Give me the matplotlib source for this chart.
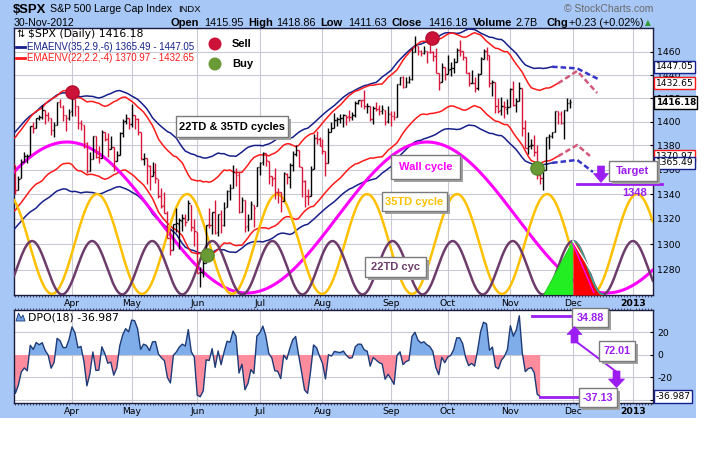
import numpy as np
import pandas as pd
import matplotlib
matplotlib.use("Agg")
import matplotlib.pyplot as plt
from matplotlib.transforms import Affine2D, blended_transform_factory
from matplotlib.patches import Rectangle, Polygon, Circle
from matplotlib.lines import Line2D
from matplotlib.ticker import FixedLocator, NullLocator, FuncFormatter

W, H = 725, 454

# trading calendar (NYSE 2012, incl. Sandy closure)
holidays = ["2012-01-16", "2012-02-20", "2012-04-06", "2012-05-28", "2012-07-04",
            "2012-09-03", "2012-10-29", "2012-10-30", "2012-11-22", "2012-12-25",
            "2013-01-01"]
days = pd.bdate_range("2012-01-03", "2013-01-31", freq="C", holidays=holidays)

# closes before the visible window (warm-up for the envelopes)
hist_closes = [1277.06, 1277.30, 1281.06, 1277.81, 1280.70, 1292.08, 1292.48, 1295.50, 1289.09, 1293.67,
               1308.04, 1314.50, 1315.38, 1316.00, 1314.65, 1326.06, 1318.43, 1316.33, 1313.01, 1312.41,
               1324.09, 1325.54, 1344.90, 1344.33, 1347.05, 1349.96, 1351.95, 1342.64, 1351.77, 1350.50,
               1343.23, 1358.04, 1361.23, 1362.21, 1357.66, 1363.46, 1365.74, 1367.59, 1372.18, 1365.68,
               1374.09, 1369.63]

# daily bars 5-Mar-2012 .. 30-Nov-2012
opens = [
    1369.6, 1363.6, 1343.4, 1352.7, 1365.97, 1370.8, 1371.9, 1395.9, 1394.2, 1402.6, 1404.2, 1409.6, 1405.5, 1402.9, 1392.8, 1397.1, 1416.6, 1412.5, 1405.4, 1403.3,
    1408.5, 1418.98, 1413.1, 1398.8, 1397.45, 1382.2, 1358.98, 1368.8, 1387.6, 1370.3, 1369.6, 1390.8, 1385.1, 1376.96, 1378.5, 1366.97, 1372.1, 1390.6, 1400.2, 1403.3,
    1397.9, 1405.5, 1402.3, 1391.5, 1368.8, 1369.2, 1363.2, 1354.6, 1358.1, 1351.9, 1338.4, 1330.8, 1324.8, 1305.1, 1295.7, 1316.1, 1316.0, 1318.7, 1320.8, 1318.9, 1331.3, 1313.1,
    1309.9, 1278.3, 1277.8, 1285.6, 1316.2, 1314.99, 1325.7, 1309.4, 1324.0, 1314.9, 1329.2, 1342.4, 1344.8, 1358.0, 1355.4, 1325.9, 1334.9, 1314.1, 1320.0, 1331.5, 1330.1,
    1362.3, 1365.8, 1373.7, 1367.1, 1354.7, 1352.96, 1341.4, 1341.3, 1334.8, 1356.5, 1353.7, 1363.6, 1373.0, 1376.5, 1362.3, 1350.5, 1338.4, 1338.2, 1360.1, 1385.9, 1385.3,
    1379.3, 1375.1, 1365.45, 1391.0, 1394.5, 1401.2, 1402.3, 1402.6, 1405.9, 1404.4, 1403.9, 1405.6, 1415.8, 1417.9, 1418.1, 1413.1, 1413.5, 1401.99, 1411.1, 1410.4, 1409.3, 1410.1, 1400.1,
    1406.5, 1404.9, 1403.7, 1432.1, 1437.9, 1429.1, 1433.6, 1436.6, 1460.1, 1465.4, 1461.2, 1459.5, 1461.05, 1460.3, 1459.8, 1456.9, 1441.6, 1433.4, 1447.1,
    1440.9, 1444.99, 1446.1, 1451.1, 1461.4, 1460.9, 1455.9, 1441.5, 1432.8, 1432.8, 1428.8, 1440.3, 1454.2, 1460.9, 1457.3, 1433.2, 1433.7, 1413.2, 1409.7, 1412.97, 1410.99,
    1412.2, 1427.6, 1414.0, 1417.3, 1428.3, 1394.5, 1377.6, 1379.9, 1380.0, 1374.6, 1355.4, 1353.4, 1359.9, 1386.8, 1387.8, 1391.0, 1409.2, 1406.3, 1398.8, 1409.96, 1415.95]
highs = [
    1369.6, 1363.6, 1354.9, 1368.7, 1374.8, 1373.0, 1396.0, 1399.4, 1402.6, 1405.9, 1414.0, 1409.6, 1407.8, 1402.9, 1399.2, 1416.6, 1419.2, 1413.7, 1405.4, 1410.9,
    1422.4, 1419.0, 1413.1, 1401.6, 1397.45, 1383.0, 1374.7, 1388.1, 1387.6, 1379.7, 1392.8, 1390.8, 1390.2, 1387.4, 1378.5, 1375.6, 1391.4, 1402.1, 1406.6, 1403.3,
    1415.3, 1405.5, 1403.1, 1391.5, 1373.9, 1369.2, 1363.7, 1365.9, 1365.7, 1351.9, 1344.9, 1341.8, 1326.4, 1312.2, 1316.4, 1328.5, 1320.7, 1324.1, 1324.2, 1334.9, 1331.3, 1319.7,
    1309.9, 1282.6, 1287.6, 1315.1, 1329.1, 1325.8, 1335.5, 1324.3, 1327.3, 1333.7, 1343.3, 1348.2, 1363.5, 1361.6, 1358.3, 1337.8, 1334.9, 1324.2, 1334.4, 1331.5, 1362.2,
    1366.4, 1374.8, 1373.9, 1367.1, 1354.9, 1361.5, 1345.0, 1341.3, 1357.7, 1357.3, 1365.4, 1375.3, 1380.4, 1376.5, 1362.3, 1351.5, 1343.98, 1363.1, 1389.2, 1391.7, 1387.2,
    1385.0, 1375.1, 1394.2, 1399.6, 1407.1, 1404.1, 1405.95, 1405.98, 1405.9, 1410.0, 1407.7, 1417.4, 1418.7, 1418.6, 1426.7, 1416.1, 1413.5, 1413.5, 1416.2, 1413.6, 1413.95, 1410.1, 1413.1,
    1409.3, 1408.8, 1432.1, 1437.9, 1438.7, 1437.8, 1439.2, 1463.8, 1474.5, 1465.6, 1461.5, 1465.2, 1461.2, 1467.1, 1460.7, 1463.2, 1441.6, 1450.2, 1447.1,
    1457.1, 1451.5, 1454.3, 1463.1, 1470.96, 1460.9, 1455.9, 1442.5, 1443.9, 1438.4, 1441.3, 1455.5, 1462.2, 1464.0, 1457.3, 1435.5, 1433.7, 1420.0, 1421.1, 1417.1, 1418.8,
    1428.4, 1434.3, 1419.9, 1433.4, 1428.3, 1401.2, 1391.4, 1384.9, 1388.8, 1380.1, 1360.6, 1362.0, 1386.9, 1389.8, 1391.3, 1409.2, 1409.2, 1409.0, 1410.0, 1419.7, 1418.86]
lows = [
    1359.1, 1340.0, 1343.4, 1352.7, 1365.97, 1365.7, 1371.9, 1389.97, 1394.2, 1401.5, 1402.4, 1397.7, 1400.6, 1388.7, 1386.9, 1397.1, 1411.9, 1400.5, 1391.6, 1401.4,
    1404.5, 1404.6, 1394.1, 1392.9, 1378.2, 1357.4, 1358.98, 1368.8, 1369.9, 1365.4, 1369.6, 1383.3, 1370.3, 1376.96, 1358.8, 1366.8, 1372.1, 1387.3, 1397.7, 1394.0,
    1395.7, 1393.9, 1388.7, 1367.96, 1363.9, 1347.8, 1343.1, 1354.6, 1348.9, 1336.6, 1328.4, 1324.8, 1304.86, 1291.98, 1295.7, 1310.0, 1296.5, 1310.5, 1314.2, 1318.9, 1310.8, 1298.9,
    1277.3, 1266.7, 1274.2, 1285.6, 1312.7, 1307.8, 1307.7, 1306.6, 1308.5, 1314.1, 1329.2, 1334.9, 1344.8, 1346.5, 1324.4, 1325.9, 1309.3, 1310.3, 1320.0, 1313.3, 1330.1,
    1355.7, 1363.5, 1363.0, 1348.0, 1346.7, 1336.3, 1333.2, 1325.4, 1334.8, 1348.5, 1345.1, 1358.8, 1371.2, 1362.2, 1337.6, 1329.2, 1331.5, 1338.2, 1360.1, 1381.4, 1379.2,
    1373.1, 1354.7, 1365.45, 1391.0, 1394.5, 1396.6, 1398.8, 1395.6, 1397.3, 1400.6, 1401.0, 1404.2, 1414.7, 1412.1, 1410.9, 1406.8, 1400.5, 1398.0, 1409.1, 1405.6, 1406.6, 1397.0, 1398.96,
    1396.6, 1401.3, 1403.7, 1431.5, 1428.98, 1429.1, 1432.99, 1435.3, 1460.1, 1457.6, 1456.1, 1457.9, 1449.98, 1459.5, 1452.1, 1441.6, 1427.2, 1433.4, 1435.6,
    1440.9, 1439.0, 1441.99, 1451.1, 1456.9, 1453.1, 1441.2, 1430.6, 1432.8, 1425.5, 1427.2, 1440.3, 1453.4, 1452.6, 1429.9, 1422.1, 1407.6, 1407.1, 1405.1, 1403.3, 1405.95,
    1412.2, 1412.9, 1408.1, 1417.3, 1388.1, 1377.5, 1373.0, 1377.2, 1370.8, 1352.5, 1348.1, 1343.35, 1359.9, 1377.0, 1386.4, 1391.0, 1397.7, 1398.0, 1385.4, 1409.0, 1411.63]
closes = [
    1364.33, 1343.36, 1352.63, 1365.91, 1370.87, 1371.09, 1395.95, 1394.28, 1402.60, 1404.17, 1409.75, 1405.52, 1402.89, 1392.78, 1397.11, 1416.51, 1412.52, 1405.54, 1403.28, 1408.47,
    1419.04, 1413.38, 1398.96, 1398.08, 1382.20, 1358.59, 1368.71, 1387.57, 1370.26, 1369.57, 1390.78, 1385.14, 1376.92, 1378.53, 1366.94, 1371.97, 1390.69, 1399.98, 1403.36, 1397.91,
    1405.82, 1402.31, 1391.57, 1369.10, 1369.58, 1363.72, 1354.58, 1357.99, 1353.39, 1338.35, 1330.66, 1324.80, 1304.86, 1295.22, 1315.99, 1316.63, 1318.86, 1320.68, 1317.82, 1332.42, 1313.32, 1310.33,
    1278.04, 1278.18, 1285.50, 1315.13, 1314.99, 1325.66, 1308.93, 1324.18, 1314.88, 1329.10, 1342.84, 1344.78, 1357.98, 1355.69, 1325.51, 1335.02, 1313.72, 1319.99, 1331.85, 1329.04, 1362.16,
    1365.51, 1374.02, 1367.58, 1354.68, 1352.46, 1341.47, 1341.45, 1334.76, 1356.78, 1353.64, 1363.67, 1372.78, 1376.51, 1362.66, 1350.52, 1338.31, 1337.89, 1360.02, 1385.97, 1385.30, 1379.32,
    1375.32, 1365.00, 1390.99, 1394.23, 1401.35, 1402.22, 1402.80, 1405.87, 1404.11, 1403.93, 1405.53, 1415.51, 1418.16, 1418.13, 1413.17, 1413.49, 1402.08, 1411.13, 1410.44, 1409.30, 1410.49, 1399.48, 1406.58,
    1404.94, 1403.44, 1432.12, 1437.92, 1429.08, 1433.56, 1436.56, 1459.99, 1465.77, 1461.19, 1459.32, 1461.05, 1460.26, 1460.15, 1456.89, 1441.59, 1433.32, 1447.15, 1440.67,
    1444.49, 1445.75, 1450.99, 1461.40, 1460.93, 1455.88, 1441.48, 1432.56, 1432.84, 1428.59, 1440.13, 1454.92, 1460.91, 1457.34, 1433.19, 1433.82, 1413.11, 1408.75, 1412.97, 1411.94, 1412.16,
    1427.59, 1414.20, 1417.26, 1428.39, 1394.53, 1377.51, 1379.85, 1380.03, 1374.53, 1355.49, 1353.33, 1359.88, 1386.89, 1387.81, 1391.03, 1409.15, 1406.29, 1398.94, 1409.93, 1415.95, 1416.18]

# overlays: (EMA period, envelope %, back shift)
env_periods = [35, 22]
env_pcts = [0.029, 0.022]
env_shifts = [6, 4]
env_colors = ["#17208a", "#ff1a1a"]
env_labels = ["EMAENV(35,2.9,-6) 1365.49 - 1447.05", "EMAENV(22,2.2,-4) 1370.97 - 1432.65"]

# cycle tools: peak bar position, period in bars, top / bottom as panel fraction
cycle_peaks = [60.3, 70.4, 48.6]
cycle_periods = [120.7, 30.18, 20.15]
cycle_tops = [0.573, 0.378, 0.202]
cycle_bottoms = [0.0075, 0.004, 0.002]
cycle_colors = ["#ff00ff", "#ffc000", "#6d3c6a"]
cycle_widths = [2.2, 1.8, 1.8]

# hand drawn projections of the envelopes (bar position, price)
proj_upper_35 = [(231.4, 1445.6), (238.4, 1436.4)]
proj_lower_35 = [(231.4, 1367.9), (236.7, 1358.0)]
proj_upper_22 = [(231.4, 1443.4), (238.1, 1424.3)]
proj_lower_22 = [(231.4, 1380.3), (235.7, 1371.2)]

sell_pos = [62, 182.7]
sell_price = [1425, 1472]
buy_pos = [107.3, 217.9]
buy_price = [1292, 1361]
target_price = 1348
dpo_high, dpo_low = 34.88, -37.13

month_starts = ["2012-04-02", "2012-05-01", "2012-06-01", "2012-07-02", "2012-08-01",
                "2012-09-04", "2012-10-01", "2012-11-01", "2012-12-03", "2013-01-02"]
month_labels = ["Apr", "May", "Jun", "Jul", "Aug", "Sep", "Oct", "Nov", "Dec", "2013"]
price_ticks = list(range(1280, 1461, 20))
dpo_ticks = [20, 0, -20, -40]

# ------------------------------------------------------------------
fig = plt.figure(figsize=(W / 100, H / 100), dpi=100)
fig.patch.set_facecolor("white")
PX = Affine2D().scale(1.0 / W, -1.0 / H).translate(0, 1) + fig.transFigure


def ptext(x, y, s, **kw):
    kw.setdefault("va", "center")
    kw.setdefault("ha", "left")
    return fig.text(x, y, s, transform=PX, **kw)


def pbox(x0, y0, x1, y1, s, color, size=8):
    fig.add_artist(Rectangle((x0 + 3, y0 + 3), x1 - x0, y1 - y0, transform=PX,
                             fc="#a0a0a0", ec="none", zorder=20))
    fig.add_artist(Rectangle((x0, y0), x1 - x0, y1 - y0, transform=PX,
                             fc="white", ec="#7a7a7a", lw=1, zorder=21))
    ptext((x0 + x1) / 2, (y0 + y1) / 2 + 0.5, s, ha="center", color=color, fontsize=size,
          fontweight="bold", family="Liberation Sans", zorder=22)


def parrow(pts, color="#9b1df2"):
    fig.add_artist(Polygon(pts, closed=True, transform=PX, fc=color, ec=color, lw=0.5, zorder=23))


fig.add_artist(Rectangle((0, 0), 696, 418, transform=PX, fc="#a7c7f7", ec="none", zorder=-5))

pos_apr = days.get_loc(pd.Timestamp("2012-04-02"))
pos_dec = days.get_loc(pd.Timestamp("2012-12-03"))
x_left = pos_apr - 19.45
x_right = pos_dec + 26.83
month_pos = [days.get_loc(pd.Timestamp(d)) for d in month_starts]
day_pos = [i for i in range(len(days)) if x_left <= i <= x_right]

n_hist = len(hist_closes)
bar_x = np.arange(n_hist, n_hist + len(closes))
s_all = pd.Series(hist_closes + closes)
prev = [hist_closes[-1]] + closes[:-1]
bar_colors = ["black" if c >= p else "#d8163a" for c, p in zip(closes, prev)]

# ---------------- price panel ----------------
ax = fig.add_axes([14 / W, 1 - 295 / H, 639 / W, 267 / H])
ax.set_facecolor("white")
ax.set_yscale("log")
ax.set_xlim(x_left, x_right)
ax.set_ylim(1260.8, 1481.3)
ax.yaxis.set_major_locator(FixedLocator(price_ticks))
ax.yaxis.set_major_formatter(FuncFormatter(lambda v, p: f"{v:.0f}"))
ax.yaxis.set_minor_locator(NullLocator())
ax.yaxis.tick_right()
ax.set_xticks(month_pos)
ax.set_xticklabels(month_labels)
ax.xaxis.set_minor_locator(FixedLocator(day_pos))
ax.grid(True, which="major", color="#c9c9d6", lw=0.8)
ax.set_axisbelow(True)
ax.tick_params(axis="y", which="major", length=2, direction="in", pad=3, labelsize=6.7,
               colors="black")
ax.tick_params(axis="x", which="major", length=0, pad=3, labelsize=6.7)
ax.tick_params(axis="x", which="minor", length=1.5, direction="out", color="#333355")
for sp in ax.spines.values():
    sp.set_color("#1c1c3c")
    sp.set_linewidth(1)
ax.get_xticklabels()[-1].set_fontweight("bold")

trans_c = blended_transform_factory(ax.transData, ax.transAxes)
xx = np.linspace(x_left, x_right, 2500)
cycle_vals = []
for pk, per, top, bot, col, lw in zip(cycle_peaks, cycle_periods, cycle_tops, cycle_bottoms,
                                      cycle_colors, cycle_widths):
    mid, amp = (top + bot) / 2, (top - bot) / 2
    yy = mid + amp * np.cos(2 * np.pi * (xx - pk) / per)
    cycle_vals.append(yy)
    ax.plot(xx, yy, color=col, lw=lw, transform=trans_c, zorder=4, solid_capstyle="round")

# green / red swing wedges on the 22TD cycle
pk22 = cycle_peaks[2] + 9 * cycle_periods[2]
ax.add_patch(Polygon([(pk22 - 9.8, 0.0), (pk22, cycle_tops[2]), (pk22, 0.0)], closed=True,
                     transform=trans_c, fc="#22ee22", ec="#22cc22", lw=0.6, zorder=4.5))
m = (xx >= pk22) & (xx <= pk22 + cycle_periods[2] / 2)
ax.fill_between(xx[m], 0, cycle_vals[2][m], transform=trans_c, color="#ff0000", zorder=4.5, lw=0)
ax.plot(xx[m], cycle_vals[2][m], color="#3aa88e", lw=1.2, transform=trans_c, zorder=4.6)
ax.plot([pk22, pk22 + 6.3], [cycle_tops[2], 0.086], color="white", lw=1, transform=trans_c, zorder=4.7)
ax.plot([pk22, pk22 + 7.0], [cycle_tops[2] - 0.01, 0.01], color="#ff00ff", lw=1, transform=trans_c, zorder=4.7)

# envelopes
n_all = len(s_all)
env_ends = []
for per, pct, sh, col in zip(env_periods, env_pcts, env_shifts, env_colors):
    ema = s_all.ewm(span=per, adjust=False).mean().to_numpy()
    xe = np.arange(n_all) - sh
    ax.plot(xe, ema * (1 + pct), color=col, lw=1.1, zorder=3)
    ax.plot(xe, ema * (1 - pct), color=col, lw=1.1, zorder=3)
    env_ends.append((xe[-1], ema[-1] * (1 + pct), ema[-1] * (1 - pct)))

for (xe_end, up_end, lo_end), pu, pl, col in zip(env_ends, [proj_upper_35, proj_upper_22],
                                                 [proj_lower_35, proj_lower_22],
                                                 ["#3535c8", "#d2587a"]):
    for start, pts in [(up_end, pu), (lo_end, pl)]:
        px_ = [xe_end] + [p[0] for p in pts]
        py_ = [start] + [p[1] for p in pts]
        ax.plot(px_, py_, color=col, lw=1.8, ls=(0, (2.2, 1.2)), zorder=3.5)

# OHLC bars
ax.vlines(bar_x, lows, highs, colors=bar_colors, lw=1.0, zorder=5)
ax.hlines(opens, bar_x - 0.45, bar_x, colors=bar_colors, lw=1.0, zorder=5)
ax.hlines(closes, bar_x, bar_x + 0.45, colors=bar_colors, lw=1.0, zorder=5)

# sell / buy markers
ax.plot(sell_pos, sell_price, "o", ms=9.5, color="#cc1238", mec="#b30f30", zorder=6)
ax.plot(buy_pos, buy_price, "o", ms=9.5, color="#6a9a35", mec="#5a8a2a", zorder=6)

# target line
ax.plot([231.4, 259.9], [target_price, target_price], color="#9b1df2", lw=2, zorder=7, clip_on=False)

# right side value flags
trans_r = blended_transform_factory(ax.transAxes, ax.transData)
flags = [(1447.05, "1447.05", "#17208a", "normal"), (1432.65, "1432.65", "#ff1a1a", "normal"),
         (1370.97, "1370.97", "#ff1a1a", "normal"), (1365.49, "1365.49", "#17208a", "normal"),
         (1416.18, "1416.18", "black", "bold")]
for v, lab, col, fw in flags:
    ax.text(1.004, v, lab, transform=trans_r, va="center", ha="left", fontsize=6.6 if fw == "normal" else 6.4,
            fontweight=fw, clip_on=False, zorder=10,
            bbox=dict(boxstyle="square,pad=0.18", fc="white", ec=col, lw=1))

# ---------------- DPO panel ----------------
ax2 = fig.add_axes([14 / W, 1 - 403 / H, 639 / W, 93 / H])
ax2.set_facecolor("white")
ax2.set_xlim(x_left, x_right)
ax2.set_ylim(-42.7, 40)
ax2.yaxis.tick_right()
ax2.set_yticks(dpo_ticks)
ax2.set_yticklabels([str(t) for t in dpo_ticks])
ax2.set_xticks(month_pos)
ax2.set_xticklabels(month_labels)
ax2.xaxis.set_minor_locator(FixedLocator(day_pos))
ax2.grid(True, which="major", color="#c9c9d6", lw=0.8)
ax2.set_axisbelow(True)
ax2.tick_params(axis="y", length=2, direction="in", pad=3, labelsize=6.7)
ax2.tick_params(axis="x", which="major", length=0, pad=3, labelsize=6.7)
ax2.tick_params(axis="x", which="minor", length=1.5, direction="out", color="#333355",
                top=True, bottom=True)
for sp in ax2.spines.values():
    sp.set_color("#1c1c3c")
    sp.set_linewidth(1)
ax2.get_xticklabels()[-1].set_fontweight("bold")

dpo = (s_all.shift(10) - s_all.rolling(18).mean()).to_numpy()
xd = np.arange(n_all) - 10.0
ok = ~np.isnan(dpo)
xd, dpo = xd[ok], dpo[ok]
ax2.fill_between(xd, dpo, 0, where=dpo >= 0, interpolate=True, color="#7fade9", lw=0, zorder=2)
ax2.fill_between(xd, dpo, 0, where=dpo <= 0, interpolate=True, color="#ff8c9c", lw=0, zorder=2)
ax2.plot(xd, dpo, color="#1d3b78", lw=1.0, zorder=3)

ax2.plot([216.3, 229.7], [dpo_high, dpo_high], color="#9b1df2", lw=2, zorder=5)
ax2.plot([xd[-1], 232.0], [dpo_low, dpo_low], color="#9b1df2", lw=2, zorder=5)
ax2.text(1.004, dpo[-1], f"{dpo[-1]:.3f}", transform=blended_transform_factory(ax2.transAxes, ax2.transData),
         va="center", ha="left", fontsize=6.6, clip_on=False, zorder=10,
         bbox=dict(boxstyle="square,pad=0.18", fc="white", ec="#17208a", lw=1))

# ---------------- header / legends ----------------
ptext(13, 10, "$SPX", fontsize=9.4, fontweight="bold", family="Liberation Sans")
ptext(50, 9.5, "S&P 500 Large Cap Index", fontsize=7.6, family="Liberation Sans")
ptext(178, 9.5, "INDX", fontsize=6.8, family="Liberation Sans")
ptext(564, 9, "\u00a9 StockCharts.com", fontsize=7.5, color="#6a6a6a", family="Liberation Sans")
ptext(14, 22.5, "30-Nov-2012", fontsize=7.6, family="Liberation Sans")
hdr = [(171, "Open", "bold"), (204, "1415.95", "normal"), (248, "High", "bold"), (276, "1418.86", "normal"),
       (320, "Low", "bold"), (348, "1411.63", "normal"), (392, "Close", "bold"), (428, "1416.18", "normal"),
       (473, "Volume", "bold"), (516, "2.7B", "normal"), (547, "Chg", "bold"), (569, "+0.23 (+0.02%)", "normal")]
for x, s, fw in hdr:
    ptext(x, 22.5, s, fontsize=8 if fw == "bold" else 7.8, fontweight=fw, family="Liberation Sans")
ptext(645, 22.5, "\u25b2", fontsize=5.5, color="#2f9a2f")

ptext(16, 34, "\u21c5", fontsize=7, color="black")
ptext(28, 34, "$SPX (Daily) 1416.18", fontsize=7.8, color="black")
for y, col, lab in zip([47, 58], env_colors, env_labels):
    fig.add_artist(Line2D([16, 25], [y, y], transform=PX, color=col, lw=2, zorder=22))
    ptext(27, y, lab, fontsize=7, color=col, family="Liberation Sans")

fig.add_artist(Circle((215, 44), 6.5, transform=PX, fc="#cc1238", ec="none", zorder=22))
fig.add_artist(Circle((215, 64), 6.5, transform=PX, fc="#6a9a35", ec="none", zorder=22))
ptext(232, 44, "Sell", fontsize=8, fontweight="bold", family="Liberation Sans")
ptext(232, 64, "Buy", fontsize=8, fontweight="bold", family="Liberation Sans")

# DPO legend
fig.add_artist(Polygon([(16, 321), (18.5, 313), (21, 318), (23, 315), (25, 321)], closed=True,
                       transform=PX, fc="#6d9ee0", ec="#1d3b78", lw=0.6, zorder=22))
ptext(28, 317.5, "DPO(18) -36.987", fontsize=7.8, color="black")

# annotation boxes
pbox(176, 116, 288, 137, "22TD & 35TD cycles", "black")
pbox(391, 155, 460, 179, "Wall cycle", "#ff00ff")
pbox(382, 192, 447, 211, "35TD cycle", "#ffc000")
pbox(365, 257, 426, 277, "22TD cyc", "#6d3c6a")
pbox(609, 161, 657, 181, "Target", "#9b1df2")
ptext(622, 193, "1348", fontsize=8, fontweight="bold", color="#9b1df2", family="Liberation Sans", zorder=22)
parrow([(597.5, 166), (604.5, 166), (604.5, 173.5), (608.5, 173.5), (601, 182.5), (593.5, 173.5), (597.5, 173.5)])

fig.add_artist(Line2D([574, 618], [340, 373], transform=PX, color="#9b1df2", lw=1.4, zorder=19))
parrow([(574.5, 326.5), (582, 334.5), (578, 334.5), (578, 343), (571, 343), (571, 334.5), (567, 334.5)])
parrow([(613, 371), (620, 371), (620, 379), (624.5, 379), (616.5, 387.5), (608.5, 379), (613, 379)])
pbox(572, 308, 608, 327, "34.88", "#9b1df2", size=7.8)
pbox(599, 341, 635, 361, "72.01", "#9b1df2", size=7.8)
pbox(579, 388, 617, 407, "-37.13", "#9b1df2", size=7.8)

fig.savefig("out.png", dpi=100, facecolor="white")
